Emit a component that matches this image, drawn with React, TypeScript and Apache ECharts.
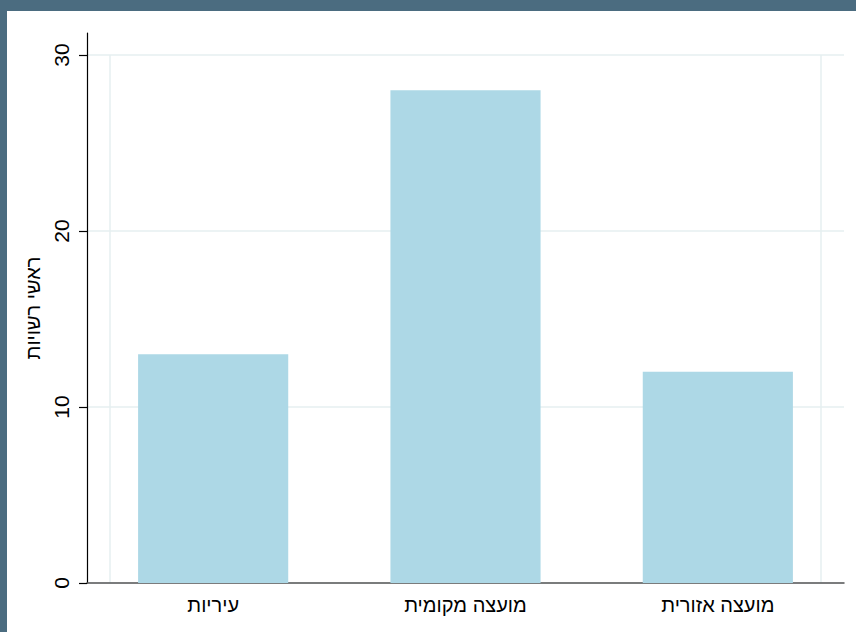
import React, { useEffect, useRef } from "react";
import * as echarts from "echarts";

const categories = ["עיריות", "מועצה מקומית", "מועצה אזורית"];
const values = [13, 28, 12];
const yTicks = [0, 10, 20, 30];
const yAxisName = "ראשי רשויות";

export default function App() {
  const ref = useRef<HTMLDivElement>(null);
  useEffect(() => {
    if (!ref.current) return;
    const chart = echarts.init(ref.current, null, { renderer: "svg" });
    const font = "Liberation Sans, Arial, sans-serif";
    chart.setOption({
      animation: false,
      backgroundColor: "#ffffff",
      grid: { left: 80, right: 12, top: 22, bottom: 49, containLabel: false },
      xAxis: {
        type: "category",
        data: categories,
        axisLine: { lineStyle: { color: "#555555", width: 1.5 } },
        axisTick: { show: false },
        axisLabel: { color: "#000000", fontSize: 20, fontFamily: font, margin: 12 },
        splitLine: { show: false },
      },
      yAxis: {
        type: "value",
        min: 0,
        max: 31.25,
        interval: 10,
        name: yAxisName,
        nameLocation: "middle",
        nameGap: 31,
        nameRotate: 90,
        nameTextStyle: { color: "#000000", fontSize: 20, fontFamily: font },
        axisLine: { show: true, lineStyle: { color: "#000000", width: 1.2 } },
        axisTick: { show: true, length: 8, customValues: yTicks, lineStyle: { color: "#000000", width: 1.2 } },
        axisLabel: {
          customValues: yTicks,
          rotate: 90,
          color: "#000000",
          fontSize: 21,
          fontFamily: font,
          margin: 15,
        },
        splitLine: { show: true, lineStyle: { color: "#e6eff1", width: 1.5 } },
      },
      graphic: [
        { type: "line", shape: { x1: 103, y1: 44, x2: 103, y2: 572 }, style: { stroke: "#e6eff1", lineWidth: 1.5 }, z: 0 },
        { type: "line", shape: { x1: 814, y1: 44, x2: 814, y2: 572 }, style: { stroke: "#e6eff1", lineWidth: 1.5 }, z: 0 },
      ],
      series: [
        {
          type: "bar",
          data: values,
          barWidth: "59.5%",
          itemStyle: { color: "#add8e6" },
          z: 2,
        },
      ],
    });
    return () => chart.dispose();
  }, []);
  return (
    <div style={{ position: "fixed", left: 0, top: 0, width: 856, height: 632, background: "#4b6c80" }}>
      <div ref={ref} style={{ position: "absolute", left: 7, top: 11, width: 849, height: 621 }} />
    </div>
  );
}
